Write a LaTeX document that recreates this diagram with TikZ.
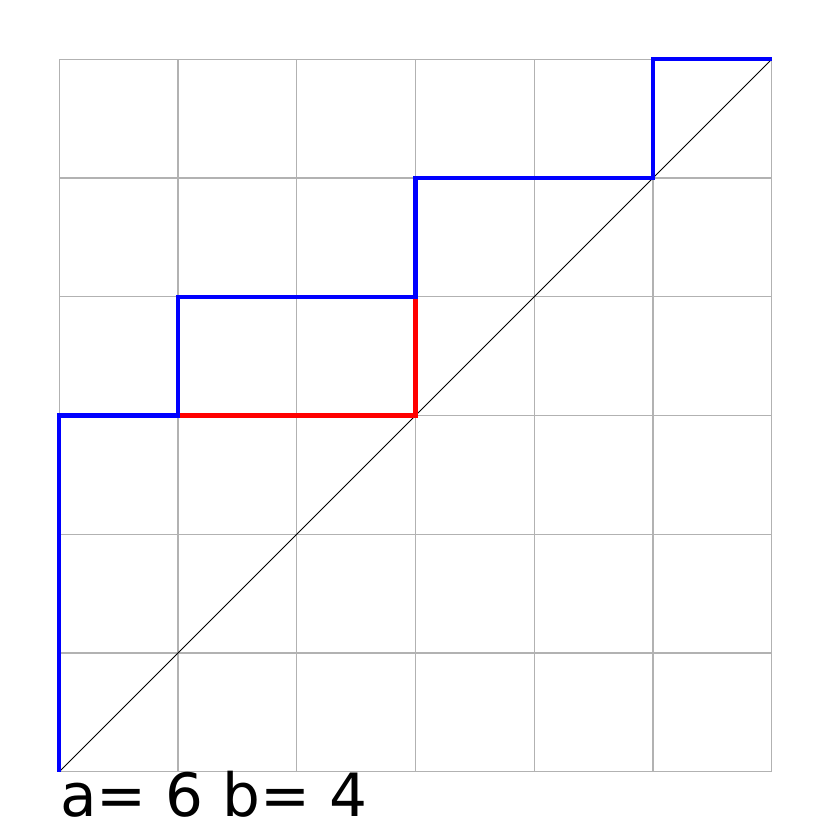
\documentclass[tikz,border=0pt]{standalone}
\usepackage{fontspec}
\setmainfont{DejaVu Sans}
\begin{document}
\begin{tikzpicture}[x=1cm,y=1cm,
  gridline/.style={draw=black!30,line width=0.3pt},
  diag/.style={draw=black,line width=0.25pt},
  bluepath/.style={draw=blue,line width=1pt},
  redpath/.style={draw=red,line width=1pt}]
\useasboundingbox (-0.5,-0.5) rectangle (6.5,6.5);
\draw[gridline] (0,0) grid (6,6);
\coordinate (o) at (0,0);
\coordinate (e) at (6,6);
\draw[diag] (o) -- (e);
\coordinate (p1) at (0,3);
\coordinate (p2) at (1,3);
\coordinate (p3) at (1,4);
\coordinate (p4) at (3,4);
\coordinate (p5) at (3,5);
\coordinate (p6) at (5,5);
\coordinate (p7) at (5,6);
\coordinate (r1) at (3,3);
\draw[redpath] (p2) -- (r1) -- (p4);
\draw[bluepath,line join=miter] (o) -- (p1) -- (p2) -- (p3) -- (p4) -- (p5) -- (p6) -- (p7) -- (e);
\node[anchor=base west,inner sep=0pt,font=\fontsize{14.3pt}{16pt}\selectfont] (lbl) at (0.0,-0.38) {a= 6 b= 4};
\end{tikzpicture}
\end{document}
